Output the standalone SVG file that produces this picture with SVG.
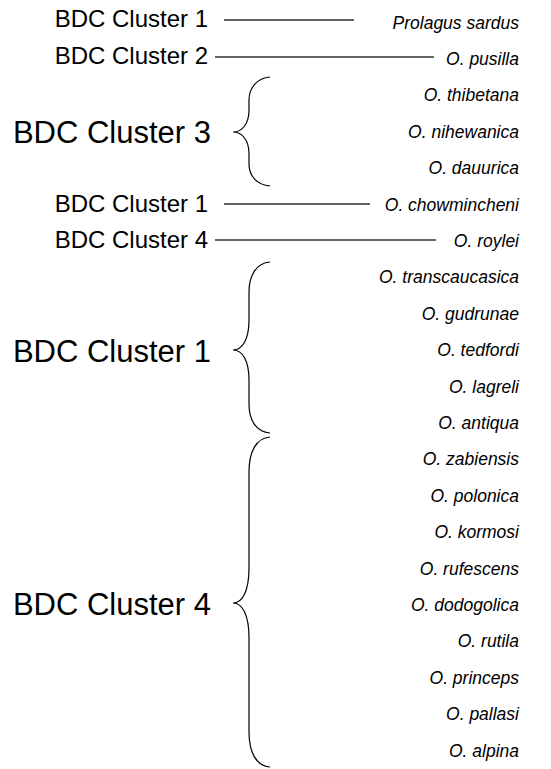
<svg xmlns="http://www.w3.org/2000/svg" width="551" height="769" viewBox="0 0 551 769">
<style>
.bg{fill:#ffffff}
.lbl{font-family:"Liberation Sans",Arial,sans-serif;font-size:24px;fill:#000;text-anchor:end}
.big{font-family:"Liberation Sans",Arial,sans-serif;font-size:31px;fill:#000;text-anchor:end}
.sp{font-family:"Liberation Sans",Arial,sans-serif;font-size:17.5px;font-style:italic;fill:#000;text-anchor:end}
.ln{stroke:#333;stroke-width:1.3;fill:none}
.br{stroke:#000;stroke-width:1.2;fill:none}
</style>
<rect class="bg" x="0" y="0" width="551" height="769"/>
<g id="clusters">
<g id="c1a"><text class="lbl" x="208" y="27">BDC Cluster 1</text></g>
<g id="c2"><text class="lbl" x="208" y="64">BDC Cluster 2</text></g>
<g id="c3big"><text class="big" x="211" y="143">BDC Cluster 3</text></g>
<g id="c1b"><text class="lbl" x="208" y="212">BDC Cluster 1</text></g>
<g id="c4a"><text class="lbl" x="208" y="248">BDC Cluster 4</text></g>
<g id="c1big"><text class="big" x="211" y="362">BDC Cluster 1</text></g>
<g id="c4big"><text class="big" x="211" y="615">BDC Cluster 4</text></g>
</g>
<g id="species">
<text class="sp" x="519" y="28.5">Prolagus sardus</text>
<text class="sp" x="519" y="64.9">O. pusilla</text>
<text class="sp" x="519" y="101.3">O. thibetana</text>
<text class="sp" x="519" y="137.7">O. nihewanica</text>
<text class="sp" x="519" y="174.1">O. dauurica</text>
<text class="sp" x="519" y="210.5">O. chowmincheni</text>
<text class="sp" x="519" y="246.9">O. roylei</text>
<text class="sp" x="519" y="283.3">O. transcaucasica</text>
<text class="sp" x="519" y="319.7">O. gudrunae</text>
<text class="sp" x="519" y="356.1">O. tedfordi</text>
<text class="sp" x="519" y="392.5">O. lagreli</text>
<text class="sp" x="519" y="428.9">O. antiqua</text>
<text class="sp" x="519" y="465.3">O. zabiensis</text>
<text class="sp" x="519" y="501.7">O. polonica</text>
<text class="sp" x="519" y="538.1">O. kormosi</text>
<text class="sp" x="519" y="574.5">O. rufescens</text>
<text class="sp" x="519" y="610.9">O. dodogolica</text>
<text class="sp" x="519" y="647.3">O. rutila</text>
<text class="sp" x="519" y="683.7">O. princeps</text>
<text class="sp" x="519" y="720.1">O. pallasi</text>
<text class="sp" x="519" y="756.5">O. alpina</text>
</g>
<g id="connectors">
<line class="ln" x1="224" y1="20" x2="354" y2="20"/>
<line class="ln" x1="215" y1="57" x2="434" y2="57"/>
<line class="ln" x1="224" y1="204" x2="370" y2="204"/>
<line class="ln" x1="215" y1="240" x2="436" y2="240"/>
<path class="br" d="M270 77 C257 78 249 88 249 100 L249 110 C249 124 242 132 233 132 C242 132 249 140 249 154 L249 164 C249 176 257 185 270 186"/>
<path class="br" d="M270 262 C256 263 249 276 249 292 L249 320 C249 340 242 350 233 350 C242 350 249 360 249 380 L249 404 C249 420 256 432 270 433"/>
<path class="br" d="M270 437 C256 438 249 452 249 472 L249 568 C249 592 242 603 233 603 C242 603 249 614 249 638 L249 732 C249 752 256 766 270 767"/>
</g>
</svg>
